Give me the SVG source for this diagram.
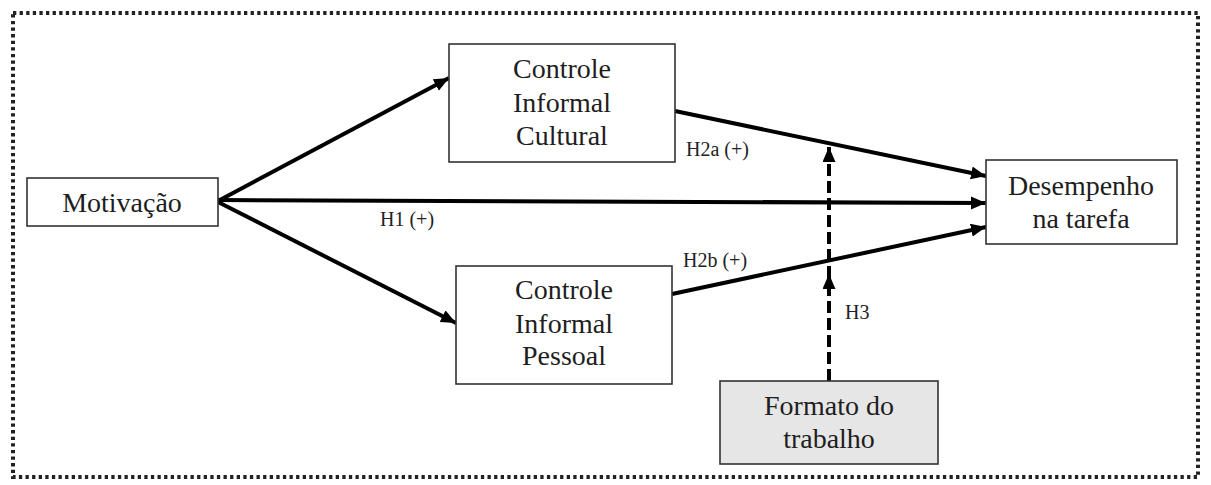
<svg xmlns="http://www.w3.org/2000/svg" width="1211" height="485" viewBox="0 0 1211 485">
<defs>
<marker id="ah" markerUnits="userSpaceOnUse" markerWidth="16" markerHeight="14" refX="15" refY="6.5" orient="auto">
<path d="M0,0 L15,6.5 L0,13 z" fill="#000"/>
</marker>
<style>
.box{fill:#fff;stroke:#333;stroke-width:1.6}
.gray{fill:#e6e6e6}
.t{font-family:'Liberation Serif','Times New Roman',serif;font-size:28px;fill:#1e1e1e;text-anchor:middle}
.lbl{font-family:'Liberation Serif','Times New Roman',serif;font-size:20px;fill:#222}
.c{stroke:#000;stroke-width:4;fill:none;marker-end:url(#ah)}
.d{stroke:#000;stroke-width:4;fill:none;stroke-dasharray:12 5;marker-end:url(#ah)}
</style>
</defs>
<rect x="13" y="13" width="1185" height="464" fill="none" stroke="#222" stroke-width="4" stroke-dasharray="3.3 3.3"/>
<g id="connectors">
<line class="c" x1="218" y1="201" x2="449" y2="78"/>
<line class="c" x1="218" y1="200" x2="986" y2="203"/>
<line class="c" x1="218" y1="202" x2="456" y2="323"/>
<line class="c" x1="675" y1="111" x2="986" y2="176"/>
<line class="c" x1="672" y1="294" x2="986" y2="227"/>
<line class="d" x1="829" y1="381" x2="829" y2="274"/>
<line class="d" x1="829" y1="278" x2="829" y2="147"/>
<text class="lbl" x="380" y="226">H1 (+)</text>
<text class="lbl" x="686" y="156">H2a (+)</text>
<text class="lbl" x="683" y="267">H2b (+)</text>
<text class="lbl" x="845" y="319">H3</text>
</g>
<g id="motivacao">
<rect class="box" x="27" y="178" width="191" height="48"/>
<text class="t" x="122" y="212">Motivação</text>
</g>
<g id="cultural">
<rect class="box" x="449" y="44" width="226" height="118"/>
<text class="t" x="562" y="78">Controle</text>
<text class="t" x="562" y="112">Informal</text>
<text class="t" x="562" y="145">Cultural</text>
</g>
<g id="pessoal">
<rect class="box" x="456" y="266" width="216" height="118"/>
<text class="t" x="564" y="299">Controle</text>
<text class="t" x="564" y="333">Informal</text>
<text class="t" x="564" y="365">Pessoal</text>
</g>
<g id="desempenho">
<rect class="box" x="986" y="160" width="191" height="84"/>
<text class="t" x="1081" y="195">Desempenho</text>
<text class="t" x="1081" y="228">na tarefa</text>
</g>
<g id="formato">
<rect class="box gray" x="720" y="381" width="218" height="83"/>
<text class="t" x="829" y="415">Formato do</text>
<text class="t" x="829" y="448">trabalho</text>
</g>
</svg>
